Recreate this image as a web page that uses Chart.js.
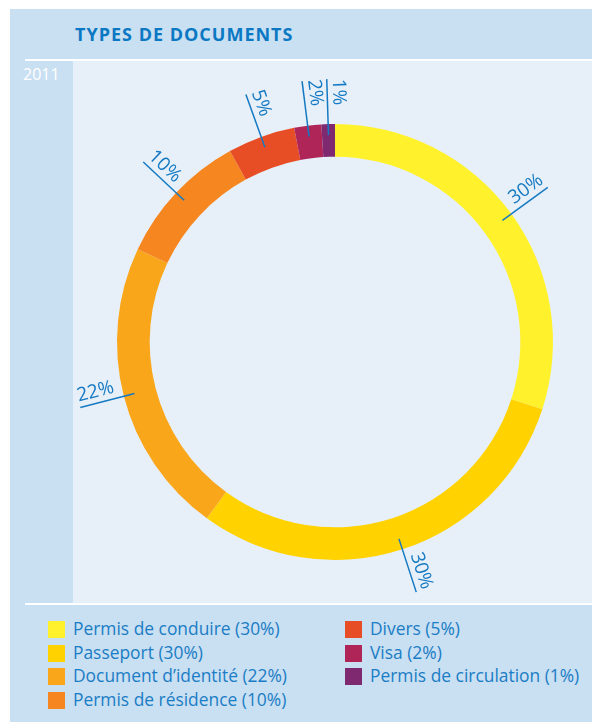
<!DOCTYPE html>
<html>
<head>
<meta charset="utf-8">
<script src="https://cdn.jsdelivr.net/npm/chart.js@4/dist/chart.umd.min.js"></script>
<style>
    body { margin: 0; background: #fff; width: 592px; height: 722px; position: relative; overflow: hidden; font-family: "Open Sans", sans-serif; }
    #panel { position: absolute; left: 10px; top: 9px; width: 582px; height: 713px; background: #c9dff2; }
    #title { position: absolute; left: 75px; top: 22px; font-size: 18px; font-weight: bold; color: #0a78c2; letter-spacing: 1px; }
    .rule { position: absolute; left: 25px; width: 567px; height: 2px; background: #fff; }
    #year { position: absolute; left: 23px; top: 63px; font-size: 16px; color: #fff; }
    #area { position: absolute; left: 73px; top: 61px; width: 519px; height: 542px; background: #e7f0f9; }
    #chart { position: absolute; left: 73px; top: 61px; }
    #legend { position: absolute; left: 48px; top: 616px; }
    .item { position: absolute; white-space: nowrap; font-size: 17.4px; color: #1a7dc5; height: 24px; line-height: 24px; }
    .item span { display: inline-block; width: 17px; height: 17px; vertical-align: -3px; margin-right: 8px; }
</style>
</head>
<body>
<div id="panel"></div>
<div id="title">TYPES DE DOCUMENTS</div>
<div class="rule" style="top:59px"></div>
<div id="year">2011</div>
<div id="area"></div>
<div class="rule" style="top:603px"></div>
<canvas id="chart" width="519" height="542"></canvas>
<div id="legend"></div>

<script>
// document types, 2011 (percent)
var categories = ['Permis de conduire', 'Passeport', 'Document d\u2019identit\u00e9', 'Permis de r\u00e9sidence', 'Divers', 'Visa', 'Permis de circulation'];
var values = [30, 30, 22, 10, 5, 2, 1];
var colors = ['#fff22d', '#ffd200', '#f9a61b', '#f6861f', '#e84e25', '#af2558', '#7f2a70'];

var blue = '#1479c2';

// radial leader line + rotated % label for every slice
var sliceLabels = {
    id: 'sliceLabels',
    afterDatasetsDraw: function (chart) {
        var c = chart.ctx;
        var meta = chart.getDatasetMeta(0);
        meta.data.forEach(function (arc, i) {
            var p = arc.getProps(['x', 'y', 'startAngle', 'endAngle', 'outerRadius'], true);
            var a = (p.startAngle + p.endAngle) / 2;
            var r1 = p.outerRadius - 11, r2 = p.outerRadius + 45;
            var cos = Math.cos(a), sin = Math.sin(a);

            c.save();
            c.strokeStyle = blue;
            c.lineWidth = 1.5;
            c.beginPath();
            c.moveTo(p.x + cos * r1, p.y + sin * r1);
            c.lineTo(p.x + cos * r2, p.y + sin * r2);
            c.stroke();

            c.translate(p.x + cos * r2, p.y + sin * r2);
            c.font = '19px "Open Sans", sans-serif';
            c.fillStyle = blue;
            c.textBaseline = 'alphabetic';
            if (cos >= 0) {
                c.rotate(a);
                c.textAlign = 'right';
            } else {
                c.rotate(a + Math.PI);
                c.textAlign = 'left';
            }
            c.fillText(values[i] + '%', 0, -6);
            c.restore();
        });
    }
};

var ctx = document.getElementById('chart');

var pieChart = new Chart(ctx, {
    type: 'doughnut',
    data: {
        labels: categories,
        datasets: [
            {
                data: values,
                backgroundColor: colors,
                borderWidth: 0
            }
        ]
    },
    options: {
        responsive: false,
        animation: false,
        cutout: '85%',
        layout: { padding: { left: 44, right: 39, top: 63, bottom: 43 } },
        plugins: {
            legend: { display: false },
            tooltip: { enabled: false }
        }
    },
    plugins: [sliceLabels]
});

// two-column legend, filled top to bottom
var legend = document.getElementById('legend');
categories.forEach(function (name, i) {
    var col = i < 4 ? 0 : 1;
    var row = i < 4 ? i : i - 4;
    var el = document.createElement('div');
    el.className = 'item';
    el.style.left = (col * 297) + 'px';
    el.style.top = (row * 23.5) + 'px';
    el.innerHTML = '<span style="background:' + colors[i] + '"></span>' + name + ' (' + values[i] + '%)';
    legend.appendChild(el);
});
</script>
</body>
</html>
